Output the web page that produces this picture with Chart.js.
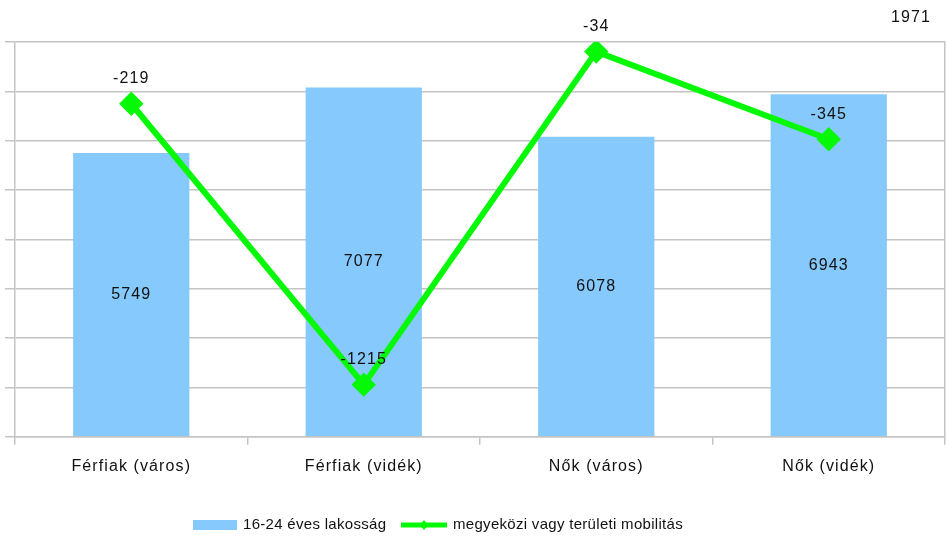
<!DOCTYPE html>
<html>
<head>
<meta charset="utf-8">
<script src="https://cdn.jsdelivr.net/npm/chart.js@4/dist/chart.umd.min.js"></script>
<style>
  html, body { margin: 0; padding: 0; background: #fff; overflow: hidden; }
  #wrap { width: 947px; height: 539px; }
</style>
</head>
<body>
<div id="wrap"><canvas id="grafika"></canvas></div>
<script>
// adatok
const kategoriak = ['Férfiak (város)', 'Férfiak (vidék)', 'Nők (város)', 'Nők (vidék)'];
const lakossag = [5749, 7077, 6078, 6943];
const mobilitas = [-219, -1215, -34, -345];
const evszam = '1971';

const betu = 'Liberation Sans, Arial, sans-serif';
const kek = '#86c9fd';
const zold = '#05f805';
const racs = '#c4c4c4';
const ritkitas = '1.1px';

// betűköz a Mac-es kinézethez
const betukoz = {
    id: 'betukoz',
    beforeDraw(chart) { chart.ctx.letterSpacing = ritkitas; }
};

// értékcímkék, évszám és jelmagyarázat
const feliratok = {
    id: 'feliratok',
    afterDatasetsDraw(chart) {
        const ctx = chart.ctx;
        const oszlop = chart.data.datasets[1];
        const vonal = chart.data.datasets[0];
        ctx.save();
        ctx.letterSpacing = ritkitas;
        ctx.font = '16px ' + betu;
        ctx.fillStyle = '#111';
        ctx.textAlign = 'center';
        ctx.textBaseline = 'middle';
        chart.getDatasetMeta(1).data.forEach((el, i) => {
            ctx.fillText(oszlop.data[i], el.x, (el.y + el.base) / 2);
        });
        chart.getDatasetMeta(0).data.forEach((el, i) => {
            ctx.fillText(vonal.data[i], el.x, el.y - 25);
        });
        ctx.textAlign = 'right';
        ctx.fillText(evszam, 931, 18);

        // jelmagyarázat
        const y = 525;
        ctx.letterSpacing = '0.3px';
        ctx.font = '15px ' + betu;
        ctx.textAlign = 'left';
        ctx.fillStyle = kek;
        ctx.fillRect(193, y - 5, 44, 10);
        ctx.fillStyle = '#111';
        ctx.fillText(oszlop.label, 243, y);
        ctx.strokeStyle = zold;
        ctx.lineWidth = 5;
        ctx.beginPath();
        ctx.moveTo(401, y);
        ctx.lineTo(447, y);
        ctx.stroke();
        ctx.fillStyle = zold;
        ctx.beginPath();
        ctx.moveTo(424, y - 5); ctx.lineTo(428, y); ctx.lineTo(424, y + 5); ctx.lineTo(420, y);
        ctx.closePath();
        ctx.fill();
        ctx.fillStyle = '#111';
        ctx.fillText(vonal.label, 453, y);
        ctx.restore();
    }
};

new Chart(document.getElementById('grafika'), {
    data: {
        labels: kategoriak,
        datasets: [
            {
                type: 'line',
                label: 'megyeközi vagy területi mobilitás',
                data: mobilitas,
                yAxisID: 'y1',
                borderColor: zold,
                backgroundColor: zold,
                borderWidth: 6,
                pointStyle: 'rectRot',
                pointRadius: 8,
                pointHoverRadius: 8,
                tension: 0,
                order: 0
            },
            {
                type: 'bar',
                label: '16-24 éves lakosság',
                data: lakossag,
                yAxisID: 'y',
                backgroundColor: kek,
                categoryPercentage: 1,
                barPercentage: 0.5,
                order: 1
            }
        ]
    },
    options: {
        responsive: true,
        maintainAspectRatio: false,
        animation: false,
        layout: { autoPadding: false, padding: { top: 42, left: 5, right: 2, bottom: 51 } },
        plugins: {
            legend: { display: false },
            tooltip: { enabled: false }
        },
        scales: {
            x: {
                grid: { drawOnChartArea: false, tickLength: 8, color: racs, lineWidth: 1.5 },
                border: { color: racs, width: 1.5 },
                ticks: { color: '#111', font: { family: betu, size: 16 }, padding: 12 }
            },
            y: {
                position: 'left',
                min: 0,
                max: 8000,
                ticks: { display: false, stepSize: 1000 },
                grid: { color: racs, lineWidth: 1.5, tickLength: 10 },
                border: { color: racs, width: 1.5 }
            },
            y1: {
                position: 'right',
                min: -1400,
                max: 0,
                ticks: { display: false, stepSize: 175 },
                grid: { drawOnChartArea: false, drawTicks: false },
                border: { color: racs, width: 1.5 }
            }
        }
    },
    plugins: [betukoz, feliratok]
});
</script>
</body>
</html>
